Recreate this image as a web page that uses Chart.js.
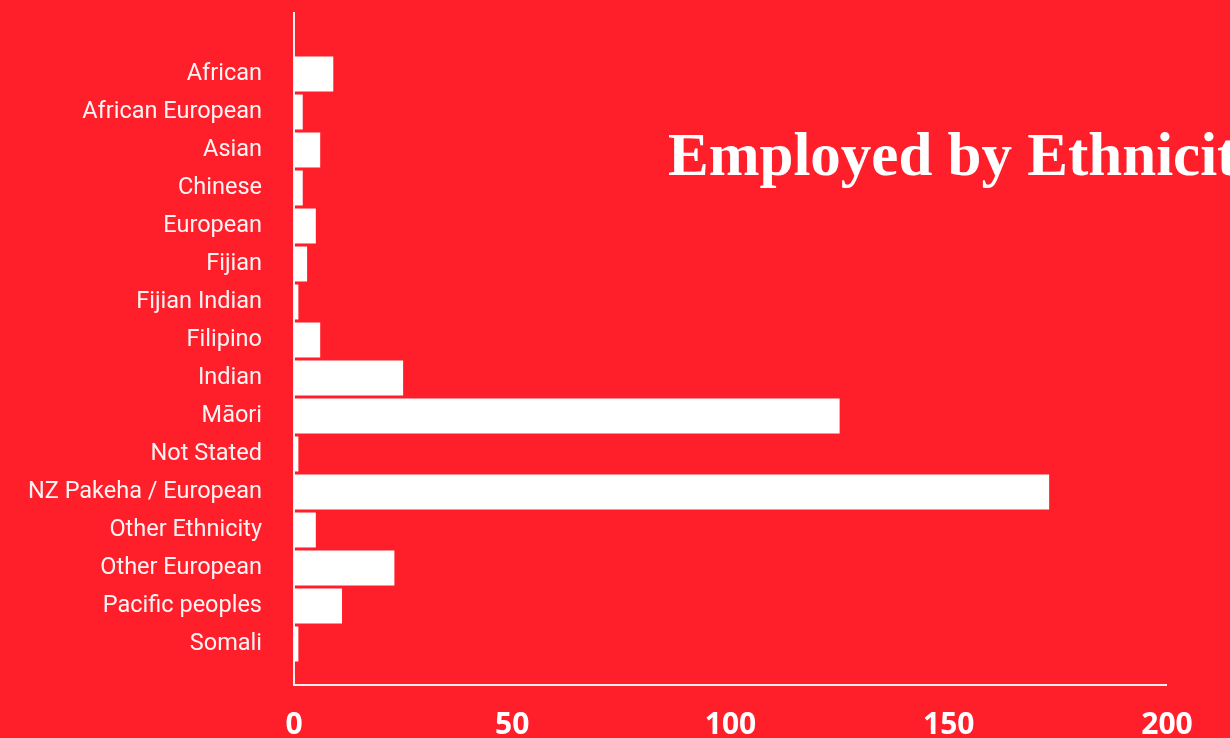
<!DOCTYPE html>
<html>
<head>
<meta charset="utf-8">
<script src="https://cdn.jsdelivr.net/npm/chart.js@4/dist/chart.umd.min.js"></script>
<style>
  html, body { margin: 0; padding: 0; background: #FE1F2B; overflow: hidden; }
  #wrap { width: 1230px; height: 738px; position: relative; }
</style>
</head>
<body>
<div id="wrap"><canvas id="c" width="1230" height="738"></canvas></div>
<script>
const categories = ["African", "African European", "Asian", "Chinese", "European", "Fijian", "Fijian Indian", "Filipino", "Indian", "Māori", "Not Stated", "NZ Pakeha / European", "Other Ethnicity", "Other European", "Pacific peoples", "Somali"];
const employed = [9, 2, 6, 2, 5, 3, 1, 6, 25, 125, 1, 173, 5, 23, 11, 1];
const xTicks = [0, 50, 100, 150, 200];
const titleText = "Employed by Ethnicity";

const decor = {
  id: 'decor',
  afterDraw(chart) {
    const ctx = chart.ctx;
    const a = chart.chartArea;
    ctx.save();
    ctx.strokeStyle = 'rgba(255,255,255,0.92)';
    ctx.lineWidth = 2;
    const axisTop = a.top - 43;
    const axisBottom = a.bottom + 22;
    ctx.beginPath();
    ctx.moveTo(a.left, axisTop);
    ctx.lineTo(a.left, axisBottom);
    ctx.lineTo(a.right, axisBottom);
    ctx.stroke();
    ctx.fillStyle = '#ffffff';
    ctx.font = 'bold 61px "Liberation Serif", "DejaVu Serif", serif';
    ctx.textAlign = 'left';
    ctx.textBaseline = 'alphabetic';
    ctx.fillText(titleText, 668, 175);
    ctx.restore();
  }
};

new Chart(document.getElementById('c'), {
  type: 'bar',
  data: {
    labels: categories,
    datasets: [{
      data: employed,
      backgroundColor: '#ffffff',
      borderWidth: 0,
      barPercentage: 0.92,
      categoryPercentage: 1.0
    }]
  },
  options: {
    indexAxis: 'y',
    responsive: false,
    animation: false,
    layout: { padding: { top: 55, right: 63, left: 0, bottom: 0 } },
    plugins: { legend: { display: false }, tooltip: { enabled: false }, title: { display: false } },
    scales: {
      x: {
        type: 'linear',
        min: 0,
        max: 200,
        afterBuildTicks(scale) { scale.ticks = xTicks.map(v => ({ value: v })); },
        afterFit(scale) { scale.height = 75; scale.paddingLeft = 0; scale.paddingRight = 0; },
        grid: { display: false, drawTicks: false },
        border: { display: false },
        ticks: {
          color: '#ffffff',
          padding: 44,
          maxRotation: 0,
          font: { family: '"Open Sans", sans-serif', size: 30, weight: 'bold' }
        }
      },
      y: {
        afterFit(scale) { scale.width = 294; scale.paddingTop = 0; scale.paddingBottom = 0; },
        grid: { display: false, drawTicks: false },
        border: { display: false },
        ticks: {
          color: 'rgba(255,255,255,0.95)',
          padding: 32,
          autoSkip: false,
          font: { family: 'Roboto, "Noto Sans", sans-serif', size: 23.5 }
        }
      }
    }
  },
  plugins: [decor]
});
</script>
</body>
</html>
